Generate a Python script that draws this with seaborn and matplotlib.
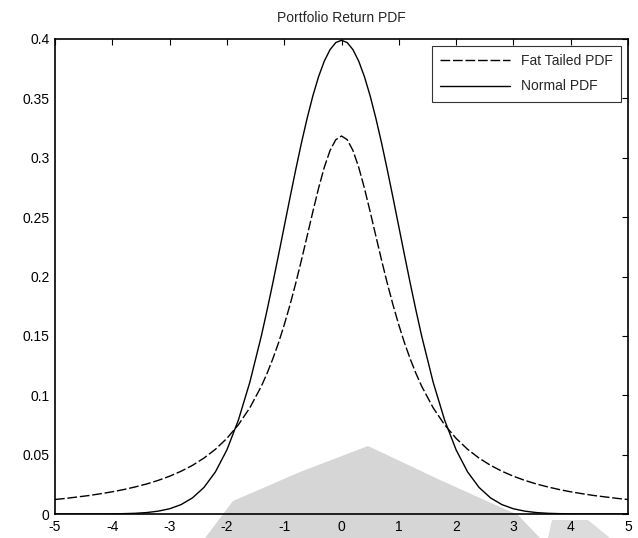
import numpy as np
import pandas as pd
import seaborn as sns
import matplotlib.pyplot as plt
from matplotlib.patches import Polygon

# values (symmetric around 0)
x_half = [0.0, 0.1, 0.2, 0.3, 0.4, 0.5, 0.6, 0.7, 0.8, 0.9, 1.0, 1.1, 1.2,
          1.3, 1.4, 1.6, 1.8, 2.0, 2.2, 2.4, 2.6, 2.8, 3.0, 3.2, 3.4, 3.6,
          3.8, 4.0, 4.2, 4.4, 4.6, 4.8, 5.0]
fat_half = [0.3183, 0.3152, 0.3061, 0.2920, 0.2744, 0.2546, 0.2340, 0.2136,
            0.1941, 0.1759, 0.1592, 0.1440, 0.1305, 0.1183, 0.1075, 0.0894,
            0.0751, 0.0637, 0.0545, 0.0471, 0.0410, 0.0360, 0.0318, 0.0283,
            0.0253, 0.0228, 0.0206, 0.0187, 0.0171, 0.0156, 0.0144, 0.0132,
            0.0122]
normal_half = [0.3989, 0.3970, 0.3910, 0.3814, 0.3683, 0.3521, 0.3332, 0.3123,
               0.2897, 0.2661, 0.2420, 0.2179, 0.1942, 0.1714, 0.1497, 0.1109,
               0.0790, 0.0540, 0.0355, 0.0224, 0.0136, 0.0079, 0.0044, 0.0024,
               0.0012, 0.0006, 0.0003, 0.0001, 0.0, 0.0, 0.0, 0.0, 0.0]

x_ticks = [-5, -4, -3, -2, -1, 0, 1, 2, 3, 4, 5]
y_ticks = [0, 0.05, 0.1, 0.15, 0.2, 0.25, 0.3, 0.35, 0.4]
y_labels = ['0', '0.05', '0.1', '0.15', '0.2', '0.25', '0.3', '0.35', '0.4']

# mirror the half curves to get the full range
x_vals = [-v for v in x_half[:0:-1]] + x_half
fat_vals = fat_half[:0:-1] + fat_half
normal_vals = normal_half[:0:-1] + normal_half
df = pd.DataFrame({'x': x_vals, 'fat': fat_vals, 'normal': normal_vals})

sns.set_theme(style="white")
plt.rcParams['font.family'] = ['Liberation Sans', 'DejaVu Sans']

fig = plt.figure(figsize=(6.38, 5.38), dpi=100)
fig.patch.set_facecolor('white')

W, H = 638, 538
ax = fig.add_axes([55 / W, 1 - 514 / H, (628 - 55) / W, (514 - 39) / H])
ax.patch.set_alpha(0)

# grey scan watermark (pixel outline from the reference), under the curves
wm = [(205, 538), (233, 501), (300, 472), (368, 446), (440, 480),
      (518, 515), (540, 538)]
wm2 = [(548, 538), (552, 520), (588, 520), (610, 538)]
for shape, col in [(wm, '#d6d6d6'), (wm2, '#dcdcdc')]:
    ax.add_patch(Polygon([(px / W, 1 - py / H) for px, py in shape],
                         closed=True, transform=fig.transFigure,
                         facecolor=col, edgecolor='none', zorder=0.5,
                         clip_on=False))

sns.lineplot(data=df, x='x', y='fat', ax=ax, color='black', linewidth=1.0,
             label='Fat Tailed PDF')
ax.lines[-1].set_dashes((7, 2))
sns.lineplot(data=df, x='x', y='normal', ax=ax, color='black', linewidth=1.0,
             label='Normal PDF')

ax.set_xlim(-5, 5)
ax.set_ylim(0, 0.4)
ax.set_xticks(x_ticks)
ax.set_xticklabels([str(t) for t in x_ticks])
ax.set_yticks(y_ticks)
ax.set_yticklabels(y_labels)
ax.set_xlabel('')
ax.set_ylabel('')
ax.tick_params(direction='in', length=4, width=0.8, top=True, right=True,
               labelsize=10, colors='black', pad=4)
for sp in ax.spines.values():
    sp.set_color('black')
    sp.set_linewidth(1.2)

ax.set_title('Portfolio Return PDF', fontsize=10, pad=12)

leg = ax.legend(loc='upper right', fontsize=10, frameon=True, fancybox=False,
                handlelength=5, borderaxespad=0.5, labelspacing=0.8,
                borderpad=0.6)
leg.get_frame().set_edgecolor('black')
leg.get_frame().set_linewidth(0.8)

fig.savefig('out.png', dpi=100)
